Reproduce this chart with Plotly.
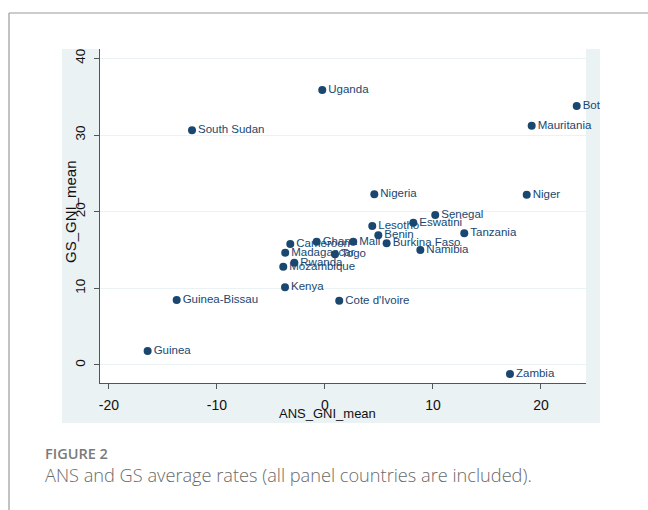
import plotly.graph_objects as go

# ---- data ----
countries = ["Uganda", "Botswana", "Mauritania", "South Sudan", "Nigeria", "Niger",
             "Senegal", "Eswatini", "Lesotho", "Tanzania", "Benin", "Burkina Faso",
             "Mali", "Ghana", "Cameroon", "Madagascar", "Togo", "Namibia", "Rwanda",
             "Mozambique", "Kenya", "Cote d'Ivoire", "Guinea-Bissau", "Guinea", "Zambia"]
ans_gni_mean = [-0.25, 23.31, 19.14, -12.31, 4.57, 18.68,
                10.21, 8.18, 4.38, 12.90, 4.94, 5.71,
                2.62, -0.77, -3.21, -3.68, 0.93, 8.83, -2.84,
                -3.86, -3.70, 1.32, -13.73, -16.42, 17.13]
gs_gni_mean = [35.87, 33.78, 31.21, 30.61, 22.26, 22.22,
               19.57, 18.56, 18.13, 17.17, 16.91, 15.87,
               16.09, 16.09, 15.79, 14.65, 14.43, 15.00, 13.34,
               12.82, 10.13, 8.39, 8.48, 1.83, -1.19]
x_ticks = [-20, -10, 0, 10, 20]
x_tick_labels = ["-20", "-10", "0", "10", "20"]
y_ticks = [0, 10, 20, 30, 40]
x_title = "ANS_GNI_mean"
y_title = "GS_GNI_mean"
caption_head = "FIGURE 2"
caption_text = "ANS and GS average rates (all panel countries are included)."

# ---- layout geometry (pixels) ----
W, H = 648, 510
ML, MR, MT, MB = 100, 62, 49, 127
PW, PH = W - ML - MR, H - MT - MB


def px(x):
    return (x - ML) / PW


def py(y):
    return 1 - (y - MT) / PH


NAVY = "#1a476f"
GREG = "#eaf2f3"
ARIAL = "Liberation Sans, Arial, sans-serif"

fig = go.Figure()
fig.add_trace(go.Scatter(
    x=ans_gni_mean, y=gs_gni_mean, text=countries,
    mode="markers+text", textposition="middle right",
    marker=dict(color=NAVY, size=8, line=dict(width=0)),
    textfont=dict(color=NAVY, size=11.5, family=ARIAL),
    cliponaxis=False, showlegend=False, hoverinfo="skip"))

shapes = [
    # stata graph region background
    dict(type="rect", xref="paper", yref="paper", layer="below",
         x0=px(62), x1=px(600), y0=py(423), y1=py(49),
         fillcolor=GREG, line=dict(width=0)),
    # white plot region
    dict(type="rect", xref="paper", yref="paper", layer="below",
         x0=0, x1=1, y0=0, y1=1, fillcolor="white", line=dict(width=0)),
    # cover labels running past graph region edge
    dict(type="rect", xref="paper", yref="paper", layer="above",
         x0=px(600), x1=px(660), y0=py(423), y1=py(49),
         fillcolor="white", line=dict(width=0)),
    # outer frame (left + top)
    dict(type="line", xref="paper", yref="paper", layer="above",
         x0=px(9), x1=px(9), y0=py(13), y1=py(515),
         line=dict(color="#9a9a9a", width=1.2)),
    dict(type="line", xref="paper", yref="paper", layer="above",
         x0=px(9), x1=px(660), y0=py(13), y1=py(13),
         line=dict(color="#9a9a9a", width=1.2)),
]

annotations = [
    dict(text=x_title, xref="paper", yref="paper", x=px(327), y=py(413),
         showarrow=False, xanchor="center", yanchor="middle",
         font=dict(size=13, color="#111", family=ARIAL)),
    dict(text=y_title, xref="paper", yref="paper", x=px(70), y=py(212),
         showarrow=False, xanchor="center", yanchor="middle", textangle=-90,
         font=dict(size=15, color="#111", family=ARIAL)),
    dict(text=caption_head, xref="paper", yref="paper", x=px(43), y=py(453),
         showarrow=False, xanchor="left", yanchor="middle",
         font=dict(size=14.5, color="#7a7a7a", family="Open Sans, sans-serif", weight=600)),
    dict(text=caption_text, xref="paper", yref="paper", x=px(43), y=py(475),
         showarrow=False, xanchor="left", yanchor="middle",
         font=dict(size=18.2, color="#6a6a6a", family="Open Sans, sans-serif", weight=300)),
]

fig.update_layout(
    width=W, height=H,
    margin=dict(l=ML, r=MR, t=MT, b=MB, pad=0),
    paper_bgcolor="white", plot_bgcolor="rgba(0,0,0,0)",
    shapes=shapes, annotations=annotations,
    xaxis=dict(range=[-20.83, 24.17], tickvals=x_ticks, ticktext=x_tick_labels,
               showgrid=False, zeroline=False,
               showline=True, linecolor="#555", linewidth=1.2,
               ticks="outside", ticklen=5, tickcolor="#555",
               tickfont=dict(size=14, color="#111", family=ARIAL), ticklabelstandoff=4),
    yaxis=dict(range=[-2.35, 41.22], tickvals=y_ticks, showgrid=True, gridcolor=GREG,
               gridwidth=1, zeroline=False, showline=True, linecolor="#555", linewidth=1.2,
               ticks="outside", ticklen=5, tickcolor="#555", tickangle=-90,
               tickfont=dict(size=13.5, color="#111", family=ARIAL), ticklabelstandoff=4),
)

fig.write_html("out.html", config={"displayModeBar": False},
               post_script="document.body.style.margin='0';document.body.style.padding='0';")
